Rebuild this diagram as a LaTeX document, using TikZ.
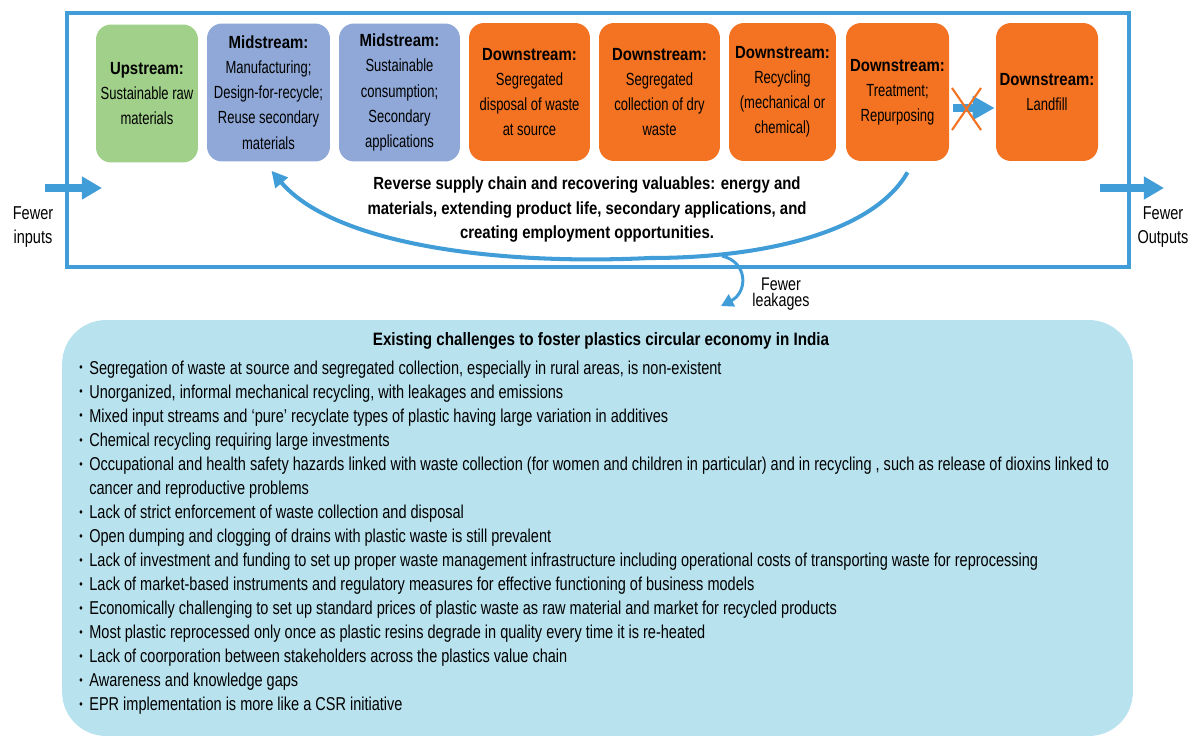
\documentclass[tikz,border=0pt]{standalone}
\usepackage{fontspec}
\setmainfont{Liberation Sans}[UprightFeatures={FakeStretch=0.74},BoldFeatures={FakeStretch=0.85}]
\newfontfamily\listfont{Liberation Sans}[FakeStretch=0.78]
\usetikzlibrary{arrows.meta}
\definecolor{frameblue}{RGB}{64,157,216}
\definecolor{stagegreen}{RGB}{160,208,138}
\definecolor{stageblue}{RGB}{143,168,216}
\definecolor{stageorange}{RGB}{243,115,34}
\definecolor{panelblue}{RGB}{184,226,238}
\newcommand\chbullet{\makebox[0.2cm][l]{\raisebox{0.25ex}{\scriptsize\textbullet}}}

\begin{document}
\begin{tikzpicture}[x=0.02cm,y=-0.02cm,
    stage/.style={rounded corners=8.5pt,minimum height=2.76cm,inner sep=1pt,align=center,font=\fontsize{10}{14.3}\selectfont},
    note/.style={align=center,inner sep=0pt,font=\fontsize{10}{14.2}\selectfont},
    side/.style={align=center,inner sep=0pt,font=\listfont\fontsize{10.6}{14.2}\selectfont},
    flow/.style={frameblue,line width=4.5pt,-{Triangle[length=11.5pt,width=12.5pt]}}]
    \useasboundingbox (0,0) rectangle (1190,738);
    % the value chain
    \draw[frameblue,line width=2.8pt](67,13)rectangle(1129,267);
    \node[stage,fill=stagegreen,minimum width=2.04cm](up)at(147,93.5){\textbf{Upstream:}\\Sustainable raw\\materials};
    \node[stage,fill=stageblue,minimum width=2.46cm](mid1)at(268.5,92.5){\textbf{Midstream:}\\Manufacturing;\\Design-for-recycle;\\Reuse secondary\\materials};
    \node[stage,fill=stageblue,minimum width=2.42cm](mid2)at(399.5,92.5){\textbf{Midstream:}\\Sustainable\\consumption;\\Secondary\\applications};
    \node[stage,fill=stageorange,minimum width=2.42cm](down1)at(529.5,92){\textbf{Downstream:}\\Segregated\\disposal of waste\\at source};
    \node[stage,fill=stageorange,minimum width=2.42cm](down2)at(659.5,92){\textbf{Downstream:}\\Segregated\\collection of dry\\waste};
    \node[stage,fill=stageorange,minimum width=2.14cm](down3)at(782.5,92){\textbf{Downstream:}\\Recycling\\(mechanical or\\chemical)};
    \node[stage,fill=stageorange,minimum width=2.06cm](down4)at(897.5,92){\textbf{Downstream:}\\Treatment;\\Repurposing};
    \node[stage,fill=stageorange,minimum width=2.04cm](landfill)at(1047,92){\textbf{Downstream:}\\Landfill};
    \draw[flow,line width=4pt,-{Triangle[length=12.5pt,width=13pt]}]([shift={(4,16)}]down4.east)--([shift={(-1,16)}]landfill.west);
    \draw[stageorange,line width=1.2pt](952,88)--(981,130)(952,130)--(981,88);
    % inputs and outputs
    \coordinate(inS)at(45,188);\coordinate(inE)at(102,188);
    \coordinate(outS)at(1100,188);\coordinate(outE)at(1164,188);
    \draw[flow](inS)--(inE);
    \draw[flow](outS)--(outE);
    \node[side](inputs)at(33,227){Fewer\\inputs};
    \node[side](outputs)at(1163,227){Fewer\\Outputs};
    % reverse loop
    \coordinate(bottom)at(650,258);
    \draw[frameblue,line width=2.3pt,-{Triangle[length=9pt,width=9pt]}]([shift={(10,11)}]down4.south)..controls(875,230)and(770,258)..(bottom)..controls(480,266)and(330,240)..([shift={(3,9)}]mid1.south);
    \node[note,font=\bfseries\fontsize{10}{14.1}\selectfont](reverse)at(587,209.5){Reverse supply chain and recovering valuables: energy and\\materials, extending product life, secondary applications, and\\creating employment opportunities.};
    \coordinate(leakS)at(722,256);\coordinate(leakE)at(721,306);
    \draw[frameblue,line width=1.7pt,-{Triangle[length=7pt,width=7.5pt]}](leakS)..controls(748,262)and(748,292)..(leakE);
    \node[side,font=\listfont\fontsize{10.4}{9.5}\selectfont](leakages)at(781,294){Fewer\\leakages};
    % challenges
    \node[fill=panelblue,rounded corners=25pt,minimum width=21.42cm,minimum height=8.32cm](panel)at(597.5,528){};
    \node[note,font=\bfseries\fontsize{10.2}{14}\selectfont](title)at(601,341){Existing challenges to foster plastics circular economy in India};
    \node[anchor=north west,align=left,inner sep=0pt,font=\listfont\fontsize{10.6}{13.68}\selectfont](challenges)at(79,360.5){%
        \chbullet Segregation of waste at source and segregated collection, especially in rural areas, is non-existent\\
        \chbullet Unorganized, informal mechanical recycling, with leakages and emissions\\
        \chbullet Mixed input streams and ‘pure’ recyclate types of plastic having large variation in additives\\
        \chbullet Chemical recycling requiring large investments\\
        \chbullet Occupational and health safety hazards linked with waste collection (for women and children in particular) and in recycling , such as release of dioxins linked to\\
        \hspace*{0.2cm}cancer and reproductive problems\\
        \chbullet Lack of strict enforcement of waste collection and disposal\\
        \chbullet Open dumping and clogging of drains  with plastic waste is still prevalent\\
        \chbullet Lack of investment and funding to set up proper waste management infrastructure including operational costs of transporting waste for reprocessing\\
        \chbullet Lack of market-based instruments and regulatory measures for effective functioning of business models\\
        \chbullet Economically challenging to set up standard prices of plastic waste as raw material and market for recycled products\\
        \chbullet Most plastic reprocessed only once as plastic resins  degrade in quality every time it is re-heated\\
        \chbullet Lack of coorporation between stakeholders  across the plastics value chain\\
        \chbullet Awareness and knowledge gaps\\
        \chbullet EPR implementation is more like a CSR initiative};
\end{tikzpicture}
\end{document}
